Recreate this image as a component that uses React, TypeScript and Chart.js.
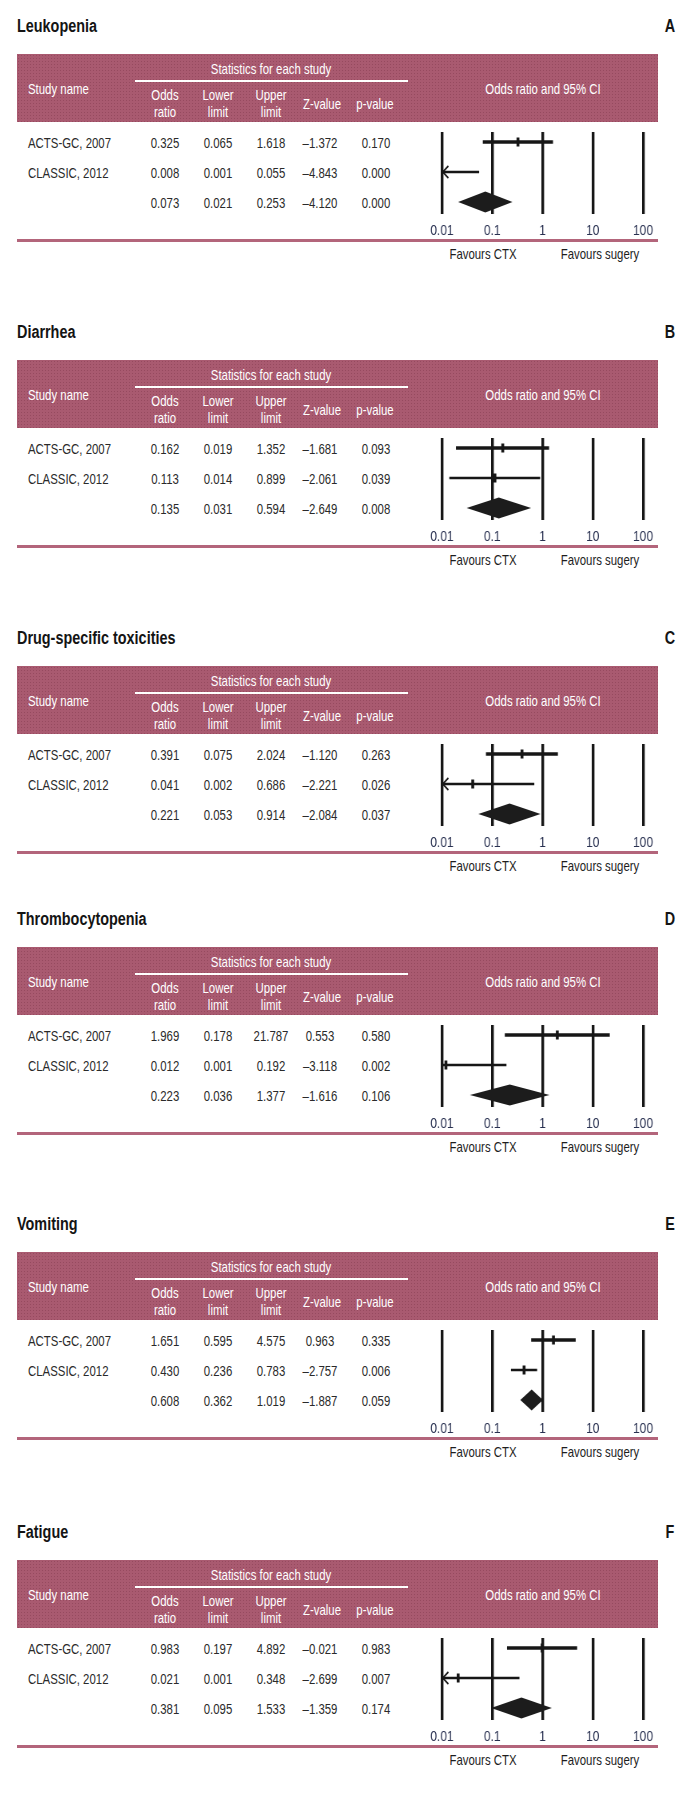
import React, { useEffect, useRef } from 'react';
import { Chart, registerables } from 'chart.js';

Chart.register(...registerables);

// ---------- data ----------
const panelTitles = ['Leukopenia', 'Diarrhea', 'Drug-specific toxicities', 'Thrombocytopenia', 'Vomiting', 'Fatigue'];
const panelLetters = ['A', 'B', 'C', 'D', 'E', 'F'];
const studyNames = ['ACTS-GC, 2007', 'CLASSIC, 2012', ''];

const oddsRatios = [
  [0.325, 0.008, 0.073],
  [0.162, 0.113, 0.135],
  [0.391, 0.041, 0.221],
  [1.969, 0.012, 0.223],
  [1.651, 0.430, 0.608],
  [0.983, 0.021, 0.381],
];
const lowerLimits = [
  [0.065, 0.001, 0.021],
  [0.019, 0.014, 0.031],
  [0.075, 0.002, 0.053],
  [0.178, 0.001, 0.036],
  [0.595, 0.236, 0.362],
  [0.197, 0.001, 0.095],
];
const upperLimits = [
  [1.618, 0.055, 0.253],
  [1.352, 0.899, 0.594],
  [2.024, 0.686, 0.914],
  [21.787, 0.192, 1.377],
  [4.575, 0.783, 1.019],
  [4.892, 0.348, 1.533],
];
const zValues = [
  [-1.372, -4.843, -4.120],
  [-1.681, -2.061, -2.649],
  [-1.120, -2.221, -2.084],
  [0.553, -3.118, -1.616],
  [0.963, -2.757, -1.887],
  [-0.021, -2.699, -1.359],
];
const pValues = [
  [0.170, 0.000, 0.000],
  [0.093, 0.039, 0.008],
  [0.263, 0.026, 0.037],
  [0.580, 0.002, 0.106],
  [0.335, 0.006, 0.059],
  [0.983, 0.007, 0.174],
];
const tickValues = [0.01, 0.1, 1, 10, 100];
const tickLabels = ['0.01', '0.1', '1', '10', '100'];

// ---------- layout / style ----------
const PANEL_TOPS = [0, 306, 612, 893, 1198, 1506];
const FONT = '"Liberation Sans", Arial, Helvetica, sans-serif';
const SQ = 0.76; // horizontal condensing factor for text
const CSQ = 0.8; // horizontal condensing of the chart canvas
const MAUVE = '#A95A70';
const TEXT = '#2a2a2a';
const NAVY = '#283050';
const INK = '#161616';

const fmt = (v: number) => v.toFixed(3);
const fmtZ = (v: number) => (v < 0 ? '\u2013' + Math.abs(v).toFixed(3) : v.toFixed(3));

function T(props: { x: number; y: number; text: string; align?: 'left' | 'center'; color?: string; size?: number; bold?: boolean; sq?: number }) {
  const { x, y, text, align = 'center', color = TEXT, size = 15, bold = false, sq = SQ } = props;
  return (
    <span
      style={{
        position: 'absolute',
        left: x,
        top: y,
        transformOrigin: align === 'center' ? '50% 50%' : '0% 50%',
        transform: (align === 'center' ? 'translate(-50%, -50%)' : 'translate(0, -50%)') + ` scaleX(${sq})`,
        whiteSpace: 'nowrap',
        lineHeight: 1,
        fontFamily: FONT,
        fontSize: size,
        fontWeight: bold ? 700 : 400,
        color,
      }}
    >
      {text}
    </span>
  );
}

const forestShapes = {
  id: 'forestShapes',
  afterDatasetsDraw(chart: any, _args: any, opts: any) {
    const p = opts.panel as number;
    const xs = chart.scales.x;
    const ys = chart.scales.y;
    const ctx = chart.ctx;
    const area = chart.chartArea;
    ctx.save();
    // arrows for lower limits below the axis minimum
    for (let i = 0; i < 2; i++) {
      const lo = lowerLimits[p][i];
      const or = oddsRatios[p][i];
      if (lo < xs.min && (or < xs.min || or > xs.min * 1.5)) {
        const y = ys.getPixelForValue(i);
        const x = area.left;
        ctx.strokeStyle = INK;
        ctx.lineWidth = 1.7;
        ctx.beginPath();
        ctx.moveTo(x + 8, y - 6);
        ctx.lineTo(x + 1, y);
        ctx.lineTo(x + 8, y + 6);
        ctx.stroke();
      }
    }
    // pooled diamond
    const lo = xs.getPixelForValue(lowerLimits[p][2]);
    const hi = xs.getPixelForValue(upperLimits[p][2]);
    const c = xs.getPixelForValue(oddsRatios[p][2]);
    const y = ys.getPixelForValue(2);
    const h = 10.5;
    ctx.fillStyle = '#1c1c1c';
    ctx.beginPath();
    ctx.moveTo(lo, y);
    ctx.lineTo(c, y - h);
    ctx.lineTo(hi, y);
    ctx.lineTo(c, y + h);
    ctx.closePath();
    ctx.fill();
    ctx.restore();
  },
};

const CANVAS_W = 270;
const CANVAS_H = 118;

function ForestChart({ panel }: { panel: number }) {
  const ref = useRef<HTMLCanvasElement | null>(null);
  useEffect(() => {
    if (!ref.current) return;
    const ciWidths = [3.5, 2.5];
    const datasets: any[] = [0, 1].map((i) => ({
      type: 'line',
      data: [
        { x: lowerLimits[panel][i], y: i },
        { x: upperLimits[panel][i], y: i },
      ],
      borderColor: INK,
      borderWidth: ciWidths[i],
      pointRadius: 0,
      fill: false,
    }));
    datasets.push({
      type: 'scatter',
      data: [0, 1]
        .filter((i) => oddsRatios[panel][i] >= tickValues[0])
        .map((i) => ({ x: oddsRatios[panel][i], y: i })),
      pointStyle: 'line',
      rotation: 90,
      radius: 4.5,
      borderWidth: 3.6,
      borderColor: INK,
      backgroundColor: INK,
    });
    const chart = new Chart(ref.current, {
      type: 'line',
      data: { datasets },
      options: {
        animation: false,
        responsive: false,
        maintainAspectRatio: false,
        devicePixelRatio: 1,
        layout: { padding: { left: 42 / CSQ, right: 27 / CSQ, top: 12, bottom: 0 } },
        plugins: {
          legend: { display: false },
          tooltip: { enabled: false },
          forestShapes: { panel },
        } as any,
        scales: {
          x: {
            type: 'logarithmic',
            min: tickValues[0],
            max: tickValues[tickValues.length - 1],
            afterBuildTicks: (s: any) => {
              s.ticks = tickValues.map((v) => ({ value: v }));
            },
            afterFit: (s: any) => {
              s.height = 24;
            },
            grid: { color: INK, lineWidth: 3.4, drawTicks: false },
            border: { display: false },
            ticks: {
              autoSkip: false,
              maxRotation: 0,
              padding: 8,
              color: NAVY,
              font: { family: FONT, size: 15 },
              callback: (_v: any, idx: number) => tickLabels[idx],
            },
          },
          y: { type: 'linear', display: false, reverse: true, min: -0.333, max: 2.4 },
        },
      } as any,
      plugins: [forestShapes],
    });
    return () => chart.destroy();
  }, [panel]);
  return (
    <canvas
      ref={ref}
      width={Math.round(CANVAS_W / CSQ)}
      height={CANVAS_H}
      style={{ position: 'absolute', left: 400, top: 120, width: CANVAS_W, height: CANVAS_H }}
    />
  );
}

function Panel({ panel }: { panel: number }) {
  const top = PANEL_TOPS[panel];
  const cols = [165, 218, 271, 320, 376];
  const rowsY = [142, 172, 202];
  return (
    <div style={{ position: 'absolute', left: 0, top, width: 686, height: 300 }}>
      <T x={17} y={26} text={panelTitles[panel]} align="left" bold size={18} sq={0.8} color="#141414" />
      <T x={670} y={26} text={panelLetters[panel]} bold size={18} sq={0.8} color="#141414" />
      <div
        style={{
          position: 'absolute',
          left: 17,
          top: 54,
          width: 641,
          height: 68,
          backgroundColor: MAUVE,
          backgroundImage: 'radial-gradient(rgba(60,0,20,0.18) 0.7px, transparent 0.8px)',
          backgroundSize: '3px 3px',
        }}
      />
      <div style={{ position: 'absolute', left: 135, top: 80, width: 273, height: 2, background: '#fff' }} />
      <T x={271} y={68} text="Statistics for each study" color="#fff" />
      <T x={28} y={88} text="Study name" align="left" color="#fff" />
      <T x={165} y={94} text="Odds" color="#fff" />
      <T x={165} y={111} text="ratio" color="#fff" />
      <T x={218} y={94} text="Lower" color="#fff" />
      <T x={218} y={111} text="limit" color="#fff" />
      <T x={271} y={94} text="Upper" color="#fff" />
      <T x={271} y={111} text="limit" color="#fff" />
      <T x={322} y={103} text="Z-value" color="#fff" />
      <T x={375} y={103} text="p-value" color="#fff" />
      <T x={543} y={88} text="Odds ratio and 95% CI" color="#fff" />
      {rowsY.map((y, i) => (
        <React.Fragment key={i}>
          {studyNames[i] ? <T x={28} y={y} text={studyNames[i]} align="left" /> : null}
          <T x={cols[0]} y={y} text={fmt(oddsRatios[panel][i])} />
          <T x={cols[1]} y={y} text={fmt(lowerLimits[panel][i])} />
          <T x={cols[2]} y={y} text={fmt(upperLimits[panel][i])} />
          <T x={cols[3]} y={y} text={fmtZ(zValues[panel][i])} />
          <T x={cols[4]} y={y} text={fmt(pValues[panel][i])} />
        </React.Fragment>
      ))}
      <ForestChart panel={panel} />
      <div style={{ position: 'absolute', left: 17, top: 239, width: 641, height: 2.5, background: '#B3657B' }} />
      <T x={483} y={253} text="Favours CTX" color="#1e1e1e" />
      <T x={600} y={253} text="Favours sugery" color="#1e1e1e" />
    </div>
  );
}

export default function App() {
  return (
    <div style={{ position: 'absolute', left: 0, top: 0, width: 686, height: 1806, background: '#fff' }}>
      {panelTitles.map((_, i) => (
        <Panel key={i} panel={i} />
      ))}
    </div>
  );
}
